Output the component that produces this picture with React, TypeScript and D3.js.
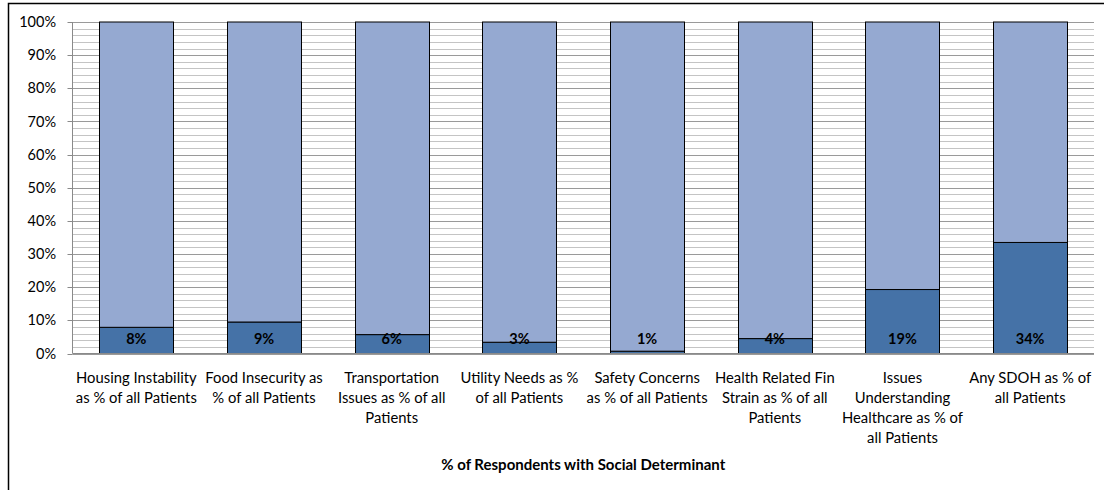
import React from "react";
import * as d3 from "d3";

const categories: string[][] = [
  ["Housing Instability", "as % of all Patients"],
  ["Food Insecurity as", "% of all Patients"],
  ["Transportation", "Issues as % of all", "Patients"],
  ["Utility Needs as %", "of all Patients"],
  ["Safety Concerns", "as % of all Patients"],
  ["Health Related Fin", "Strain as % of all", "Patients"],
  ["Issues", "Understanding", "Healthcare as % of", "all Patients"],
  ["Any SDOH as % of", "all Patients"],
];
const withDeterminant = [7.9, 9.5, 5.7, 3.4, 0.7, 4.5, 19.3, 33.5];
const withoutDeterminant = [92.1, 90.5, 94.3, 96.6, 99.3, 95.5, 80.7, 66.5];
const valueLabels = ["8%", "9%", "6%", "3%", "1%", "4%", "19%", "34%"];
const yTicks = [0, 10, 20, 30, 40, 50, 60, 70, 80, 90, 100];
const axisTitle = "% of Respondents with Social Determinant";

const W = 1104;
const H = 490;
const FONT = "Lato, 'Open Sans', sans-serif";

export default function App() {
  const left = 72.5;
  const right = 1094;
  const top = 22;
  const bottom = 353.5;
  const x = d3.scaleBand<number>().domain(d3.range(categories.length)).range([left, right]).paddingInner(0.42).paddingOuter(0.21);
  const y = d3.scaleLinear().domain([0, 100]).range([bottom, top]);
  const minor = d3.range(0, 101, 2);

  const rows = categories.map((_, i) => ({ i, a: withDeterminant[i], b: withoutDeterminant[i] }));
  const stack = d3.stack<any>().keys(["a", "b"])(rows);
  const colors = ["#4572a7", "#95a9d1"];

  return (
    <svg width={W} height={H} style={{ position: "absolute", left: 0, top: 0, background: "#fff" }} fontFamily={FONT}>
      <rect x={8.5} y={3.5} width={1200} height={600} fill="#fff" stroke="#000" strokeWidth={1.5} />
      {minor.map((v) => (
        <line key={"g" + v} x1={left} x2={right} y1={Math.round(y(v)) + 0.5} y2={Math.round(y(v)) + 0.5}
          stroke={v % 10 === 0 ? "#9a9a9a" : "#c4c4c4"} strokeWidth={1} />
      ))}
      {yTicks.map((v) => (
        <g key={"t" + v}>
          <line x1={left - 5} x2={left} y1={Math.round(y(v)) + 0.5} y2={Math.round(y(v)) + 0.5} stroke="#8a8a8a" />
          <text x={56} y={y(v)} dy="0.35em" textAnchor="end" fontSize={14.5} fill="#000">{v}%</text>
        </g>
      ))}
      <line x1={left} x2={left} y1={top} y2={bottom} stroke="#8a8a8a" />
      {stack.map((s, si) => (
        <g key={"s" + si}>
          {s.map((d, i) => (
            <rect key={i} x={Math.round(x(i)!) + 0.5} y={y(d[1])} width={Math.round(x.bandwidth())}
              height={y(d[0]) - y(d[1])} fill={colors[si]} stroke="#000" strokeWidth={1} />
          ))}
        </g>
      ))}
      <line x1={left} x2={right} y1={bottom} y2={bottom} stroke="#8a8a8a" />
      {valueLabels.map((t, i) => (
        <text key={"v" + i} x={x(i)! + x.bandwidth() / 2} y={bottom - 15} dy="0.35em" textAnchor="middle"
          fontSize={14.5} fontWeight="bold" fill="#000">{t}</text>
      ))}
      {categories.map((lines, i) => (
        <text key={"c" + i} x={x(i)! + x.bandwidth() / 2} y={378} textAnchor="middle" fontSize={14.8} fill="#000">
          {lines.map((l, j) => (
            <tspan key={j} x={x(i)! + x.bandwidth() / 2} y={378 + j * 20} dy="0.35em">{l}</tspan>
          ))}
        </text>
      ))}
      <text x={(left + right) / 2} y={465} dy="0.35em" textAnchor="middle" fontSize={15} fontWeight="bold" fill="#000">{axisTitle}</text>
    </svg>
  );
}
